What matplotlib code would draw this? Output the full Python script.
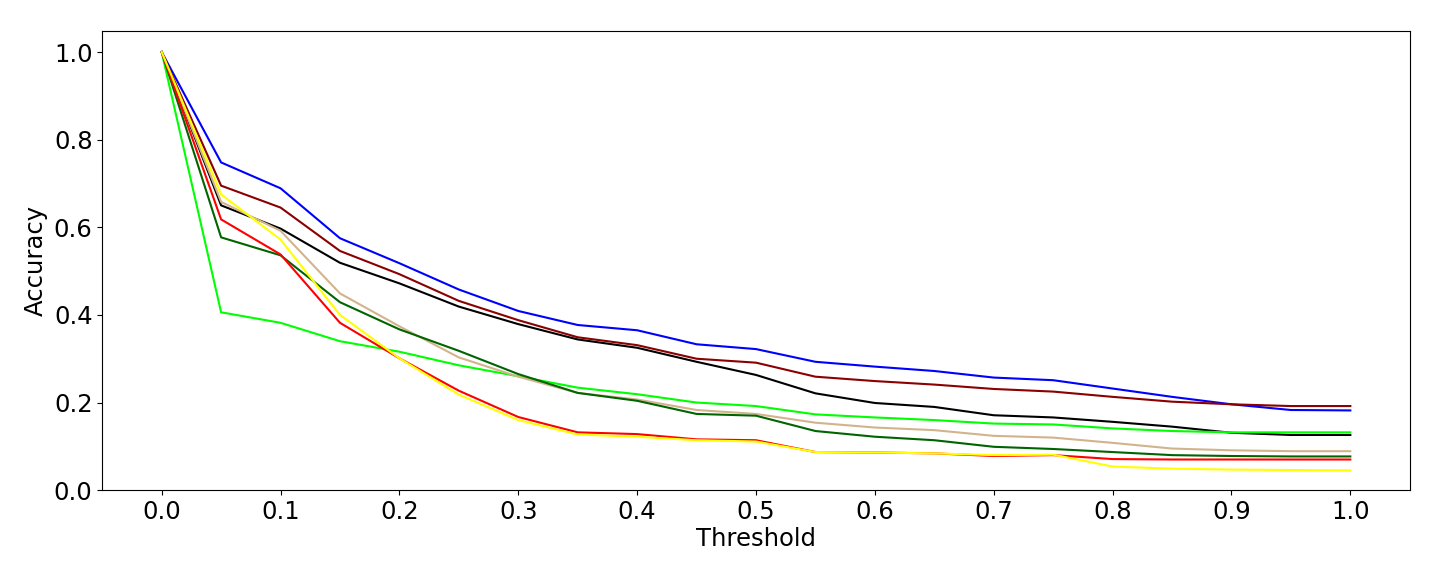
import matplotlib
matplotlib.use("Agg")
import matplotlib.pyplot as plt
import numpy as np

thresholds = [0.0, 0.05, 0.1, 0.15, 0.2, 0.25, 0.3, 0.35, 0.4, 0.45, 0.5,
              0.55, 0.6, 0.65, 0.7, 0.75, 0.8, 0.85, 0.9, 0.95, 1.0]

blue = [1.0, 0.748, 0.689, 0.575, 0.518, 0.458, 0.409, 0.377, 0.365, 0.333, 0.322,
        0.293, 0.282, 0.272, 0.257, 0.251, 0.232, 0.213, 0.196, 0.183, 0.182]
darkred = [1.0, 0.695, 0.645, 0.546, 0.493, 0.432, 0.388, 0.349, 0.331, 0.300, 0.291,
           0.259, 0.249, 0.241, 0.231, 0.225, 0.213, 0.202, 0.196, 0.192, 0.192]
black = [1.0, 0.650, 0.597, 0.519, 0.472, 0.419, 0.379, 0.344, 0.325, 0.293, 0.263,
         0.221, 0.199, 0.190, 0.171, 0.166, 0.156, 0.145, 0.131, 0.126, 0.126]
lime = [1.0, 0.406, 0.382, 0.340, 0.316, 0.285, 0.260, 0.234, 0.219, 0.200, 0.192,
        0.173, 0.166, 0.160, 0.152, 0.150, 0.141, 0.135, 0.132, 0.132, 0.132]
tan = [1.0, 0.658, 0.592, 0.449, 0.374, 0.303, 0.259, 0.222, 0.207, 0.183, 0.174,
       0.154, 0.143, 0.137, 0.124, 0.120, 0.108, 0.095, 0.091, 0.089, 0.089]
darkgreen = [1.0, 0.577, 0.536, 0.429, 0.367, 0.318, 0.265, 0.222, 0.204, 0.174, 0.170,
             0.135, 0.122, 0.114, 0.099, 0.094, 0.087, 0.080, 0.078, 0.077, 0.077]
red = [1.0, 0.618, 0.538, 0.382, 0.301, 0.227, 0.167, 0.132, 0.128, 0.116, 0.114,
       0.087, 0.086, 0.084, 0.078, 0.080, 0.071, 0.070, 0.070, 0.070, 0.070]
yellow = [1.0, 0.675, 0.572, 0.400, 0.301, 0.218, 0.160, 0.127, 0.122, 0.114, 0.111,
          0.087, 0.086, 0.084, 0.080, 0.081, 0.054, 0.049, 0.047, 0.046, 0.045]

series = [
    (blue, "blue"),
    (darkred, "darkred"),
    (black, "black"),
    (lime, "lime"),
    (tan, "tan"),
    (darkgreen, "darkgreen"),
    (red, "red"),
    (yellow, "yellow"),
]

plt.rcParams["font.size"] = 17.5
fig = plt.figure(figsize=(14.4, 5.76), dpi=100)
ax = fig.add_axes([0.071, 0.149, 0.908, 0.797])
for vals, c in series:
    ax.plot(thresholds, vals, color=c, linewidth=1.5)

ax.set_xticks(np.arange(0, 1.01, 0.1))
ax.set_xticklabels([f"{v:.1f}" for v in np.arange(0, 1.01, 0.1)])
ax.set_ylim(bottom=0)
ax.set_xlabel("Threshold", labelpad=2)
ax.set_ylabel("Accuracy")
fig.savefig("out.png", dpi=100)
